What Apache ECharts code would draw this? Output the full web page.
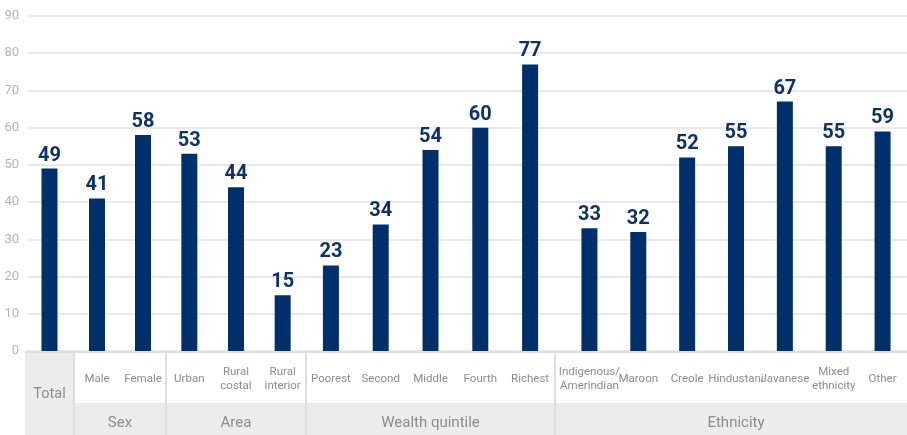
<!DOCTYPE html>
<html>
<head>
<meta charset="utf-8">
<script src="https://cdn.jsdelivr.net/npm/echarts@6/dist/echarts.min.js"></script>
<style>
html,body{margin:0;padding:0;background:#fff;}
#chart{width:907px;height:435px;}
</style>
</head>
<body>
<div id="chart"></div>
<script>
// ---- data ----
const totalCats = ['Total'];
const totalVals = [49];
const sexCats = ['Male', 'Female'];
const sexVals = [41, 58];
const areaCats = ['Urban', 'Rural\ncostal', 'Rural\ninterior'];
const areaVals = [53, 44, 15];
const wealthCats = ['Poorest', 'Second', 'Middle', 'Fourth', 'Richest'];
const wealthVals = [23, 34, 54, 60, 77];
const ethCats = ['Indigenous/\nAmerindian', 'Maroon', 'Creole', 'Hindustani', 'Javanese', 'Mixed\nethnicity', 'Other'];
const ethVals = [33, 32, 52, 55, 67, 55, 59];
const groupNames = ['', 'Sex', 'Area', 'Wealth quintile', 'Ethnicity'];
const yMin = 0, yMax = 90, yStep = 10;

// ---- layout / style ----
const groups = [
  {cats: totalCats, vals: totalVals, name: groupNames[0], left: 25, width: 49},
  {cats: sexCats, vals: sexVals, name: groupNames[1], left: 74, width: 92},
  {cats: areaCats, vals: areaVals, name: groupNames[2], left: 166, width: 140},
  {cats: wealthCats, vals: wealthVals, name: groupNames[3], left: 306, width: 249},
  {cats: ethCats, vals: ethVals, name: groupNames[4], left: 565, width: 355}
];
const TOP = 16, BOTTOM = 84;
const font = "Roboto, 'Liberation Sans', sans-serif";
const barColor = '#00306b';
const labelColor = '#0e3268';
const catColor = '#8c8c8c';
const lineColor = '#dedede';
const fillGray = '#ececec';

const grid = [{left: 27, right: 0, top: TOP, bottom: BOTTOM}];
const xAxis = [{type: 'value', gridIndex: 0, min: 0, max: 1, show: false}];
const yAxis = [{
  type: 'value', gridIndex: 0, min: yMin, max: yMax, interval: yStep,
  axisLine: {show: false}, axisTick: {show: false},
  axisLabel: {color: '#b4b4b4', fontSize: 13, fontFamily: font, margin: 8},
  splitLine: {lineStyle: {color: '#e2e2e2', width: 1.5}}
}];
const series = [];

groups.forEach((g, i) => {
  const gi = i + 1;
  grid.push({left: g.left, width: g.width, top: TOP, bottom: BOTTOM});
  const isTotal = i === 0;
  xAxis.push({
    type: 'category', gridIndex: gi, data: g.cats,
    axisLine: {show: false}, axisTick: {show: false},
    axisLabel: {
      interval: 0, color: catColor, fontFamily: font,
      fontSize: isTotal ? 14.5 : 11.5, lineHeight: isTotal ? 18 : 14,
      verticalAlign: 'middle', margin: isTotal ? 43 : 28
    }
  });
  yAxis.push({type: 'value', gridIndex: gi, min: yMin, max: yMax, interval: yStep, show: false});
  series.push({
    type: 'bar', xAxisIndex: xAxis.length - 1, yAxisIndex: yAxis.length - 1,
    data: g.vals, barWidth: 16,
    itemStyle: {color: barColor},
    label: {
      show: true, position: 'top', distance: 3,
      color: labelColor, fontFamily: font, fontWeight: 'bold', fontSize: 20
    }
  });
  if (g.name) {
    xAxis.push({
      type: 'category', gridIndex: gi, data: [g.name], position: 'bottom',
      axisLine: {show: false}, axisTick: {show: false},
      axisLabel: {color: catColor, fontFamily: font, fontSize: 15, verticalAlign: 'middle', margin: 72}
    });
  }
});

const H = 435;
const tableTop = 353, row2Top = 403;
const graphic = [
  {type: 'rect', z: -1, shape: {x: 74, y: row2Top, width: 833, height: H - row2Top}, style: {fill: fillGray}},
  {type: 'rect', z: -1, shape: {x: 25, y: tableTop, width: 49, height: H - tableTop}, style: {fill: fillGray}},
  {type: 'rect', z: -1, shape: {x: 25, y: 351, width: 882, height: 2}, style: {fill: lineColor}}
];
[74, 166, 306, 555].forEach(x => {
  graphic.push({type: 'rect', z: -1, shape: {x: x - 1, y: tableTop, width: 2, height: H - tableTop}, style: {fill: lineColor}});
});

const chart = echarts.init(document.getElementById('chart'));
chart.setOption({
  animation: false,
  backgroundColor: '#fff',
  grid, xAxis, yAxis, series, graphic
});
</script>
</body>
</html>
